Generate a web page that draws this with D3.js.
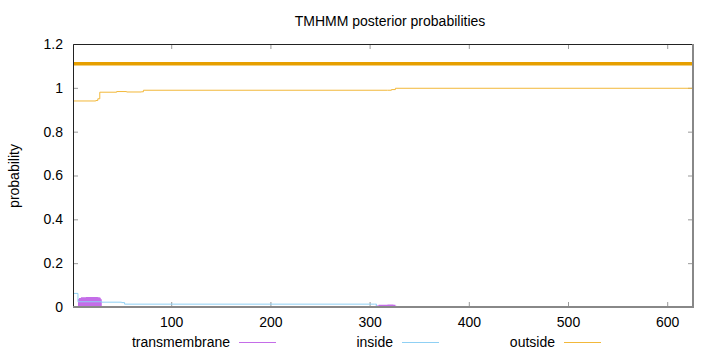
<!DOCTYPE html>
<html>
<head>
<meta charset="utf-8">
<script src="https://cdn.jsdelivr.net/npm/d3@7"></script>
<style>
  body { margin: 0; background: #fff; }
  svg { font-family: "Liberation Sans", Arial, sans-serif; }
</style>
</head>
<body>
<div id="container"></div>
<script>
// données (points de rupture, tracés en escalier)
const xTicks = [100, 200, 300, 400, 500, 600]
const yTicks = [0, 0.2, 0.4, 0.6, 0.8, 1, 1.2]

const outsideX = [1, 24, 26, 28, 45, 55, 70, 72, 318, 322, 326, 626]
const outsideY = [0.94, 0.942, 0.95, 0.98, 0.983, 0.981, 0.982, 0.989, 0.989, 0.992, 0.998, 0.998]

const insideX = [1, 6, 30, 50, 53, 305, 307, 626]
const insideY = [0.062, 0.024, 0.022, 0.02, 0.013, 0.013, 0.002, 0.002]

const tmX = [1, 6, 7, 9, 14, 20, 26, 28, 29, 30, 50, 52, 72, 73, 305, 306, 309, 318, 324, 326, 327, 626]
const tmY = [0, 0.036, 0.041, 0.044, 0.046, 0.046, 0.045, 0.042, 0.035, 0, 0, 0.004, 0.004, 0, 0, 0.007, 0.01, 0.011, 0.01, 0.006, 0, 0]

// barre de topologie prédite (outside sur toute la longueur)
const topoX = [1, 626]
const topoY = [1.11, 1.11]

const seriesNames = ['transmembrane', 'inside', 'outside']
const seriesColors = ['#c46de8', '#8fd0f4', '#f2b83a']

function toPoints(xs, ys) {
  return xs.map((x, i) => ({ x: x, y: ys[i] }))
}

function displayChart() {
  const width = 720, height = 352
  const margin = { top: 44, right: 27, bottom: 45, left: 73 }

  const svg = d3.select('#container').append('svg')
    .attr('width', width)
    .attr('height', height)

  const x = d3.scaleLinear()
    .domain([1, 626])
    .range([margin.left, width - margin.right])

  const y = d3.scaleLinear()
    .domain([0, 1.2])
    .range([height - margin.bottom, margin.top])

  // titre
  svg.append('text')
    .attr('x', 390)
    .attr('y', 26)
    .attr('text-anchor', 'middle')
    .attr('font-size', 14)
    .text('TMHMM posterior probabilities')

  // label axe y
  svg.append('text')
    .attr('transform', 'translate(19,' + 176 + ') rotate(-90)')
    .attr('text-anchor', 'middle')
    .attr('font-size', 14)
    .text('probability')

  // axes (ticks vers l'intérieur)
  svg.append('g')
    .attr('transform', 'translate(' + margin.left + ',0)')
    .call(d3.axisLeft(y).tickValues(yTicks).tickFormat(d3.format('')).tickSizeInner(-5).tickSizeOuter(0).tickPadding(10))
  svg.append('g')
    .attr('transform', 'translate(0,' + (height - margin.bottom) + ')')
    .call(d3.axisBottom(x).tickValues(xTicks).tickSizeInner(-5).tickSizeOuter(0).tickPadding(10))
  // ticks miroir
  svg.append('g')
    .attr('transform', 'translate(' + (width - margin.right) + ',0)')
    .call(d3.axisRight(y).tickValues(yTicks).tickFormat('').tickSizeInner(-5).tickSizeOuter(0))
  svg.append('g')
    .attr('transform', 'translate(0,' + margin.top + ')')
    .call(d3.axisTop(x).tickValues(xTicks).tickFormat('').tickSizeInner(-5).tickSizeOuter(0))

  svg.selectAll('.domain').remove()
  svg.selectAll('.tick line').attr('stroke', '#999')
  svg.selectAll('.tick text').attr('font-size', 14).attr('fill', '#000')
  svg.selectAll('g').attr('font-family', null)

  // courbe transmembrane (aire)
  const area = d3.area()
    .x(d => x(d.x))
    .y0(y(0))
    .y1(d => y(d.y))
    .curve(d3.curveStepAfter)
  svg.append('path')
    .datum(toPoints(tmX, tmY))
    .attr('d', area)
    .attr('fill', seriesColors[0])

  const line = d3.line()
    .x(d => x(d.x))
    .y(d => y(d.y))
    .curve(d3.curveStepAfter)

  svg.append('path')
    .datum(toPoints(insideX, insideY))
    .attr('d', line)
    .attr('fill', 'none')
    .attr('stroke', seriesColors[1])
    .attr('stroke-width', 1)

  svg.append('path')
    .datum(toPoints(outsideX, outsideY))
    .attr('d', line)
    .attr('fill', 'none')
    .attr('stroke', seriesColors[2])
    .attr('stroke-width', 1)

  svg.append('path')
    .datum(toPoints(topoX, topoY))
    .attr('d', line)
    .attr('fill', 'none')
    .attr('stroke', '#e69f00')
    .attr('stroke-width', 3.5)

  // cadre
  const x0 = margin.left, x1 = width - margin.right
  const y0 = margin.top, y1 = height - margin.bottom
  svg.append('path')
    .attr('d', `M${x0 + 0.5},${y1} V${y0 + 0.5} H${x1}`)
    .attr('fill', 'none')
    .attr('stroke', '#222')
  svg.append('path')
    .attr('d', `M${x0},${y1} H${x1} V${y0}`)
    .attr('fill', 'none')
    .attr('stroke', '#888')
    .attr('stroke-width', 2)

  // légende
  const legendStart = [239, 402, 564]
  seriesNames.forEach((name, i) => {
    svg.append('text')
      .attr('x', legendStart[i] - 9)
      .attr('y', 347)
      .attr('text-anchor', 'end')
      .attr('font-size', 14)
      .text(name)
    svg.append('line')
      .attr('x1', legendStart[i])
      .attr('x2', legendStart[i] + 37)
      .attr('y1', 342.5)
      .attr('y2', 342.5)
      .attr('stroke', seriesColors[i])
  })
}

displayChart()
</script>
</body>
</html>
